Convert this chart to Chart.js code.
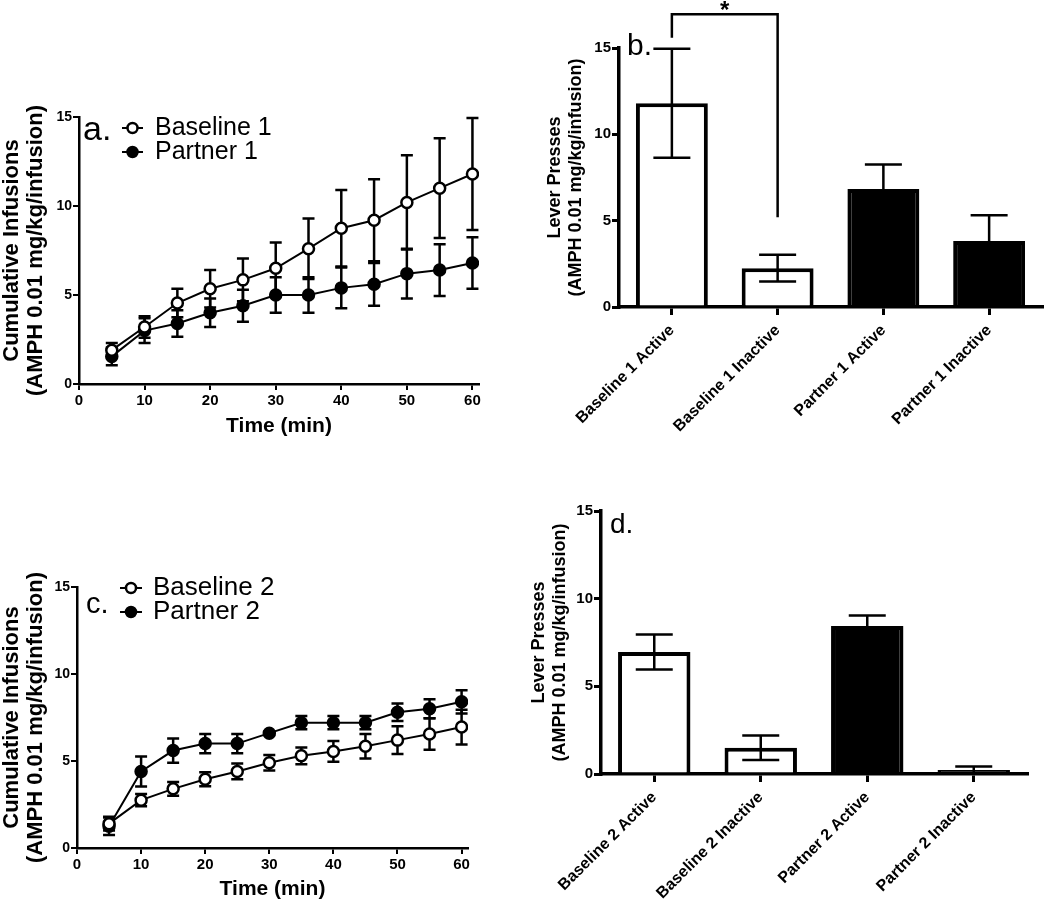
<!DOCTYPE html>
<html>
<head>
<meta charset="utf-8">
<script src="https://cdn.jsdelivr.net/npm/chart.js@4.4.1/dist/chart.umd.min.js"></script>
<style>
  html, body { margin:0; padding:0; background:#fff; }
  body { width:1050px; height:906px; position:relative; overflow:hidden; }
  .panel { position:absolute; }
</style>
</head>
<body>
<div class="panel" id="pa" style="left:0px;top:80px;width:490px;height:370px"><canvas id="chartA"></canvas></div>
<div class="panel" id="pb" style="left:520px;top:0px;width:530px;height:480px"><canvas id="chartB"></canvas></div>
<div class="panel" id="pc" style="left:0px;top:550px;width:490px;height:356px"><canvas id="chartC"></canvas></div>
<div class="panel" id="pd" style="left:520px;top:480px;width:530px;height:426px"><canvas id="chartD"></canvas></div>
<script>
/* Cumulative infusions + lever presses, four panels */

// --- data ---
const times = [5, 10, 15, 20, 25, 30, 35, 40, 45, 50, 55, 60];

const baseline1 = [1.9, 3.2, 4.55, 5.35, 5.85, 6.5, 7.6, 8.75, 9.2, 10.2, 11.0, 11.8];
const baseline1Err = [0.4, 0.6, 0.8, 1.05, 1.2, 1.45, 1.7, 2.15, 2.3, 2.65, 2.8, 3.15];
const partner1 = [1.55, 3.0, 3.4, 4.0, 4.4, 5.0, 5.0, 5.4, 5.6, 6.2, 6.4, 6.8];
const partner1Err = [0.5, 0.7, 0.75, 0.8, 0.9, 1.0, 1.0, 1.15, 1.2, 1.4, 1.45, 1.45];

const baseline2 = [1.4, 2.75, 3.4, 3.95, 4.4, 4.9, 5.3, 5.55, 5.85, 6.2, 6.55, 6.95];
const baseline2Err = [0.4, 0.35, 0.4, 0.4, 0.45, 0.45, 0.48, 0.6, 0.7, 0.8, 0.9, 1.0];
const partner2 = [1.25, 4.4, 5.6, 6.0, 6.0, 6.6, 7.2, 7.2, 7.2, 7.8, 8.0, 8.4];
const partner2Err = [0.5, 0.86, 0.7, 0.55, 0.55, 0.1, 0.38, 0.38, 0.38, 0.5, 0.55, 0.67];

const leverLabels1 = ['Baseline 1 Active', 'Baseline 1 Inactive', 'Partner 1 Active', 'Partner 1 Inactive'];
const leverValues1 = [11.8, 2.25, 6.83, 3.82];
const leverErr1 = [3.15, 0.77, 1.43, 1.5];

const leverLabels2 = ['Baseline 2 Active', 'Baseline 2 Inactive', 'Partner 2 Active', 'Partner 2 Inactive'];
const leverValues2 = [6.96, 1.5, 8.44, 0.23];
const leverErr2 = [1.0, 0.7, 0.6, 0.2];

const barFill = ['#ffffff', '#ffffff', '#000000', '#000000'];
const yTicks = [0, 5, 10, 15];
const xTicks = [0, 10, 20, 30, 40, 50, 60];

// bracket between bar 0 and bar 1 of panel b (value units)
const sigBracket = { from: 0, to: 1, top: 16.95, leftEnd: 15.6, rightEnd: 5.2, mark: '*' };

const FONT = '"Liberation Sans", Arial, Helvetica, sans-serif';
Chart.defaults.font.family = FONT;
Chart.defaults.color = '#000';

// error bars drawn from the y scale
const errorBars = {
  id: 'errorBars',
  beforeDatasetsDraw(chart, args, o){ if(o.behind) drawErrors(chart, o); },
  afterDatasetsDraw(chart, args, o){ if(!o.behind) drawErrors(chart, o); }
};
function drawErrors(chart, o){
  const {ctx} = chart;
  const y = chart.scales.y;
  ctx.save();
  ctx.strokeStyle = '#000';
  ctx.lineWidth = o.lineWidth;
  chart.data.datasets.forEach((ds, i)=>{
    if(!ds.errors) return;
    const meta = chart.getDatasetMeta(i);
    meta.data.forEach((el, j)=>{
      const e = ds.errors[j];
      if(e == null) return;
      const raw = ds.data[j];
      const v = typeof raw === 'object' ? raw.y : raw;
      const x = el.x;
      const top = y.getPixelForValue(v + e);
      const bot = y.getPixelForValue(v - e);
      const hw = o.capWidth / 2;
      ctx.beginPath();
      ctx.moveTo(x, top); ctx.lineTo(x, bot);
      ctx.moveTo(x - hw, top); ctx.lineTo(x + hw, top);
      ctx.moveTo(x - hw, bot); ctx.lineTo(x + hw, bot);
      ctx.stroke();
    });
  });
  ctx.restore();
}

// panel letter, in-plot legend, significance bracket
const decor = {
  id: 'decor',
  afterDraw(chart, args, o){
    const {ctx, chartArea} = chart;
    ctx.save();
    ctx.fillStyle = '#000';
    ctx.textBaseline = 'alphabetic';
    ctx.font = `${o.letterSize}px ${FONT}`;
    ctx.fillText(o.letter, chartArea.left + o.letterDx, chartArea.top + o.letterDy);

    if(o.legend){
      const L = o.legend;
      ctx.font = `${L.size}px ${FONT}`;
      ctx.textBaseline = 'middle';
      chart.data.datasets.forEach((ds, i)=>{
        const cy = chartArea.top + L.dy + i * L.gap;
        const x0 = chartArea.left + L.dx;
        ctx.strokeStyle = '#000';
        ctx.lineWidth = 2;
        ctx.beginPath(); ctx.moveTo(x0, cy); ctx.lineTo(x0 + L.line, cy); ctx.stroke();
        ctx.beginPath();
        ctx.arc(x0 + L.line / 2, cy, 5, 0, Math.PI * 2);
        ctx.fillStyle = ds.pointBackgroundColor;
        ctx.fill();
        ctx.lineWidth = 2.5;
        ctx.stroke();
        ctx.fillStyle = '#000';
        ctx.fillText(ds.label, x0 + L.textDx, cy);
      });
    }

    if(o.bracket){
      const b = o.bracket;
      const xs = chart.scales.x, ys = chart.scales.y;
      const x1 = xs.getPixelForValue(b.from), x2 = xs.getPixelForValue(b.to);
      const yt = ys.getPixelForValue(b.top);
      ctx.strokeStyle = '#000';
      ctx.lineWidth = 2.5;
      ctx.beginPath();
      ctx.moveTo(x1, ys.getPixelForValue(b.leftEnd));
      ctx.lineTo(x1, yt);
      ctx.lineTo(x2, yt);
      ctx.lineTo(x2, ys.getPixelForValue(b.rightEnd));
      ctx.stroke();
      ctx.font = `bold 24px ${FONT}`;
      ctx.textAlign = 'center';
      ctx.textBaseline = 'alphabetic';
      ctx.fillText(b.mark, (x1 + x2) / 2, yt + 4);
    }
    ctx.restore();
  }
};

function lineChart(canvasId, cfg){
  return new Chart(document.getElementById(canvasId), {
    type: 'line',
    data: {
      datasets: [
        { label: cfg.names[0], data: times.map((t,i)=>({x:t, y:cfg.open[i]})), errors: cfg.openErr,
          borderColor:'#000', borderWidth:2, pointRadius:5.5, pointBorderWidth:2.5,
          pointBackgroundColor:'#ffffff', pointBorderColor:'#000', tension:0 },
        { label: cfg.names[1], data: times.map((t,i)=>({x:t, y:cfg.filled[i]})), errors: cfg.filledErr,
          borderColor:'#000', borderWidth:2, pointRadius:5.5, pointBorderWidth:2.5,
          pointBackgroundColor:'#000000', pointBorderColor:'#000', tension:0 }
      ]
    },
    options: {
      responsive:true, maintainAspectRatio:false, animation:false,
      layout:{ padding: cfg.padding },
      plugins:{
        legend:{display:false}, tooltip:{enabled:false},
        errorBars:{ behind:true, lineWidth:2.5, capWidth:12 },
        decor: cfg.decor
      },
      scales:{
        x:{
          type:'linear', min:0, max:61,
          afterBuildTicks: s => { s.ticks = xTicks.map(v=>({value:v})); },
          afterFit: s => { s.height = cfg.xHeight; },
          grid:{ display:true, drawOnChartArea:false, tickLength:6, color:'#000', lineWidth:2 },
          border:{ color:'#000', width:2.5 },
          ticks:{ font:{size:15, weight:'bold'}, padding:2, autoSkip:false, maxRotation:0 },
          title:{ display:true, text:'Time (min)', font:{size:21, weight:'bold'}, padding:{top:0, bottom:cfg.xTitlePad} }
        },
        y:{
          min:0, max:15,
          afterBuildTicks: s => { s.ticks = yTicks.map(v=>({value:v})); },
          afterFit: s => { s.width = cfg.yWidth; },
          grid:{ display:true, drawOnChartArea:false, tickLength:6, color:'#000', lineWidth:2 },
          border:{ color:'#000', width:2.5 },
          ticks:{ font:{size:14, weight:'bold'}, padding:1 },
          title:{ display:true, text:['Cumulative Infusions','(AMPH 0.01 mg/kg/infusion)'],
                  font:{size:22, weight:'bold', lineHeight:1.1}, padding:{top:0, bottom:0} }
        }
      }
    },
    plugins:[errorBars, decor]
  });
}

function barChart(canvasId, cfg){
  return new Chart(document.getElementById(canvasId), {
    type: 'bar',
    data: {
      labels: cfg.labels,
      datasets: [{ data: cfg.values, errors: cfg.errors, backgroundColor: barFill,
                   borderColor:'#000', borderWidth:4, borderSkipped:'start',
                   barPercentage:0.68, categoryPercentage:1 }]
    },
    options: {
      responsive:true, maintainAspectRatio:false, animation:false,
      layout:{ padding: cfg.padding },
      plugins:{
        legend:{display:false}, tooltip:{enabled:false},
        errorBars:{ behind:false, lineWidth:2.5, capWidth:37 },
        decor: cfg.decor
      },
      scales:{
        x:{
          afterFit: s => { s.height = cfg.xHeight; },
          grid:{ display:true, offset:false, drawOnChartArea:false, tickLength:8, color:'#000', lineWidth:3 },
          border:{ color:'#000', width:3.5 },
          ticks:{ font:{size:16, weight:'bold'}, minRotation:45, maxRotation:45, autoSkip:false, padding:6 }
        },
        y:{
          min:0, max:15,
          afterBuildTicks: s => { s.ticks = yTicks.map(v=>({value:v})); },
          afterFit: s => { s.width = cfg.yWidth; },
          grid:{ display:true, drawOnChartArea:false, tickLength:7, color:'#000', lineWidth:3 },
          border:{ color:'#000', width:3.5 },
          ticks:{ font:{size:15, weight:'bold'}, padding:1 },
          title:{ display:true, text:['Lever Presses','(AMPH 0.01 mg/kg/infusion)'],
                  font:{size:18, weight:'bold', lineHeight:1.15}, padding:{top:cfg.yTitlePad, bottom:0} }
        }
      }
    },
    plugins:[errorBars, decor]
  });
}

lineChart('chartA', {
  names:['Baseline 1','Partner 1'], open:baseline1, openErr:baseline1Err, filled:partner1, filledErr:partner1Err,
  padding:{top:37, right:11, bottom:0, left:0}, yWidth:79, xHeight:66, xTitlePad:11,
  decor:{ letter:'a.', letterSize:34, letterDx:4, letterDy:23,
          legend:{ dx:43, dy:11, gap:24, line:21, textDx:33, size:25 } }
});

lineChart('chartC', {
  names:['Baseline 2','Partner 2'], open:baseline2, openErr:baseline2Err, filled:partner2, filledErr:partner2Err,
  padding:{top:37, right:22, bottom:0, left:0}, yWidth:77, xHeight:58, xTitlePad:4,
  decor:{ letter:'c.', letterSize:29, letterDx:9, letterDy:26,
          legend:{ dx:43, dy:1, gap:24, line:22, textDx:33, size:26 } }
});

barChart('chartB', {
  labels:leverLabels1, values:leverValues1, errors:leverErr1,
  padding:{top:48, right:8, bottom:0, left:0}, yWidth:99, xHeight:173, yTitlePad:25,
  decor:{ letter:'b.', letterSize:30, letterDx:8, letterDy:7, bracket:sigBracket }
});

barChart('chartD', {
  labels:leverLabels2, values:leverValues2, errors:leverErr2,
  padding:{top:31, right:23, bottom:0, left:0}, yWidth:81, xHeight:132, yTitlePad:9,
  decor:{ letter:'d.', letterSize:28, letterDx:9, letterDy:22 }
});
</script>
</body>
</html>
